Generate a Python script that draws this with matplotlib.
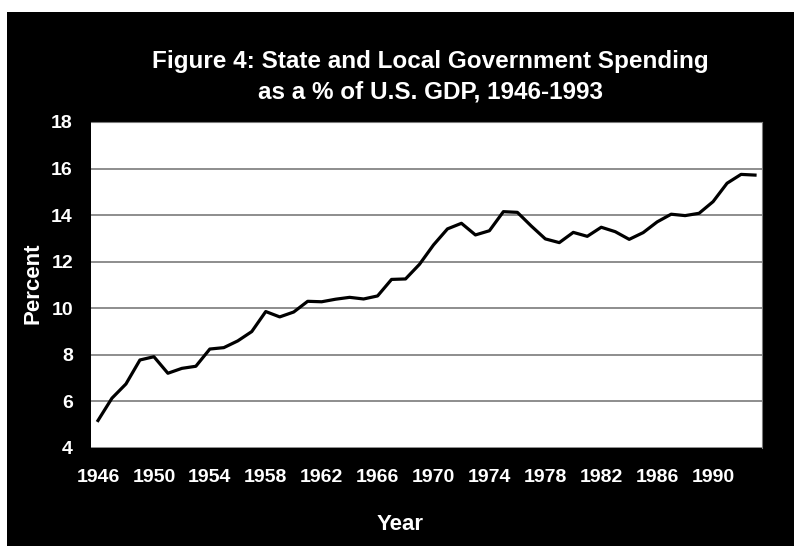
import matplotlib
matplotlib.use("Agg")
import matplotlib.pyplot as plt
from matplotlib.patches import Rectangle

# State and local government spending, % of GDP
years = list(range(1946, 1994))
spending = [5.18, 6.14, 6.75, 7.78, 7.92, 7.21, 7.42, 7.51, 8.25, 8.31,
            8.60, 9.00, 9.86, 9.63, 9.84, 10.30, 10.28, 10.39, 10.47, 10.40,
            10.53, 11.24, 11.26, 11.89, 12.72, 13.41, 13.65, 13.15, 13.33, 14.15,
            14.12, 13.53, 12.98, 12.82, 13.26, 13.09, 13.48, 13.29, 12.96, 13.25,
            13.71, 14.04, 13.98, 14.08, 14.58, 15.37, 15.75, 15.72]
tick_years = list(range(1946, 1991, 4))
y_ticks = [4, 6, 8, 10, 12, 14, 16, 18]

plt.rcParams['font.family'] = ['Liberation Sans', 'DejaVu Sans']

W, H = 794, 546
fig = plt.figure(figsize=(W / 100, H / 100), dpi=100)
fig.patch.set_facecolor('white')
# black slide panel behind everything, leaving a thin white margin top/left
fig.patches.append(Rectangle((7 / W, 0), 787 / W, 534 / H, transform=fig.transFigure,
                             facecolor='black', edgecolor='none', zorder=-10))

ax = fig.add_axes([91 / W, (H - 448) / H, (762 - 91) / W, (448 - 122) / H])
ax.set_facecolor('white')

idx = list(range(len(years)))
ax.plot(idx, spending, color='black', linewidth=2.3, zorder=3)

ax.set_xlim(-0.5, len(years) - 0.5)
ax.set_ylim(4, 18)
ax.set_yticks(y_ticks)
ax.set_yticklabels([str(v) for v in y_ticks])
ax.set_xticks([years.index(y) for y in tick_years])
ax.set_xticklabels([str(y) for y in tick_years])
ax.grid(axis='y', color='#7a7a7a', linewidth=1.2)
ax.set_axisbelow(True)

ax.tick_params(axis='both', length=0, colors='white', labelsize=14)
ax.tick_params(axis='x', pad=15)
ax.tick_params(axis='y', pad=13)
for lab in ax.get_xticklabels() + ax.get_yticklabels():
    lab.set_fontweight('bold')

for s in ['left', 'bottom']:
    ax.spines[s].set_visible(False)
for s in ['top', 'right']:
    ax.spines[s].set_color('#7a7a7a')

fig.text(430 / W, 1 - 77 / H, 'Figure 4: State and Local Government Spending\nas a % of U.S. GDP, 1946-1993',
         ha='center', va='center', color='white', fontsize=17.5, fontweight='bold',
         linespacing=1.4)
fig.text(33 / W, 1 - 283 / H, 'Percent', rotation=90, ha='center', va='center',
         color='white', fontsize=16, fontweight='bold')
fig.text(400 / W, 1 - 530 / H, 'Year', ha='center', va='baseline',
         color='white', fontsize=16, fontweight='bold')

fig.savefig('out.png', dpi=100, facecolor=fig.get_facecolor())
